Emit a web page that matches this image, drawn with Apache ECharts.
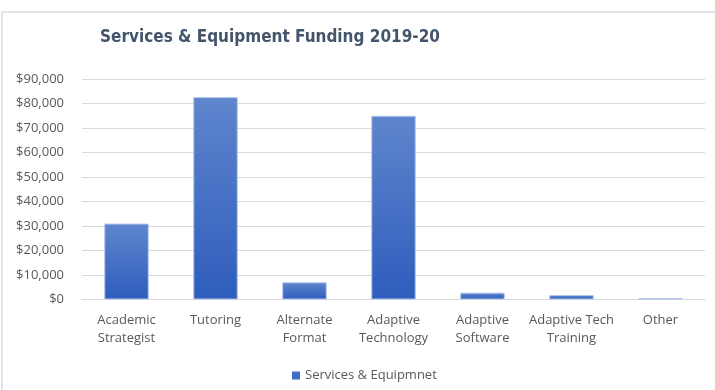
<!DOCTYPE html>
<html>
<head>
<meta charset="utf-8">
<script src="https://cdn.jsdelivr.net/npm/echarts@6/dist/echarts.min.js"></script>
<style>
  html, body { margin: 0; padding: 0; background: #ffffff; }
  #chart { width: 715px; height: 390px; }
</style>
</head>
<body>
<div id="chart"></div>
<script>
// Funding categories and amounts (USD)
var categories = [
  'Academic\nStrategist',
  'Tutoring',
  'Alternate\nFormat',
  'Adaptive\nTechnology',
  'Adaptive\nSoftware',
  'Adaptive Tech\nTraining',
  'Other'
];
var fundingValues = [31000, 82600, 7000, 75000, 2800, 1800, 500];
var seriesName = 'Services & Equipmnet';
var chartTitle = 'Services & Equipment Funding 2019-20';

var labelColor = '#595959';
var gridColor = '#d9d9d9';

var chart = echarts.init(document.getElementById('chart'), null, { renderer: 'canvas' });

chart.setOption({
  animation: false,
  backgroundColor: '#ffffff',
  title: {
    text: chartTitle,
    left: 265,
    top: 24,
    textAlign: 'center',
    textStyle: {
      fontFamily: '"DejaVu Sans Condensed", "Open Sans", sans-serif',
      fontWeight: 'bold',
      fontSize: 17,
      color: '#44546a'
    }
  },
  graphic: [{
    type: 'rect',
    shape: { x: 2, y: 12, width: 800, height: 500 },
    style: { fill: 'none', stroke: '#e3e5ea', lineWidth: 2 },
    silent: true,
    z: -1
  }],
  legend: {
    left: 287,
    top: 364,
    itemWidth: 8,
    itemHeight: 8,
    icon: 'rect',
    textStyle: {
      fontFamily: '"Open Sans", sans-serif',
      fontSize: 13,
      color: labelColor
    },
    data: [{ name: seriesName, itemStyle: { color: '#3f6cc6', borderWidth: 0 } }]
  },
  grid: {
    left: 82,
    right: 10,
    top: 79,
    bottom: 90.5,
    containLabel: false
  },
  xAxis: {
    type: 'category',
    data: categories,
    axisLine: { lineStyle: { color: gridColor, width: 1 } },
    axisTick: { show: false },
    axisLabel: {
      interval: 0,
      margin: 12,
      lineHeight: 18,
      fontFamily: '"Open Sans", sans-serif',
      fontSize: 13,
      color: labelColor
    }
  },
  yAxis: {
    type: 'value',
    min: 0,
    max: 90000,
    interval: 10000,
    axisLine: { show: false },
    axisTick: { show: false },
    splitLine: { lineStyle: { color: gridColor, width: 1 } },
    axisLabel: {
      margin: 18,
      fontFamily: '"Open Sans", sans-serif',
      fontSize: 13,
      color: labelColor,
      formatter: function (v) {
        return '$' + v.toLocaleString('en-US');
      }
    }
  },
  series: [{
    name: seriesName,
    type: 'bar',
    data: fundingValues,
    barCategoryGap: '50%',
    itemStyle: {
      color: new echarts.graphic.LinearGradient(0, 0, 0, 1, [
        { offset: 0, color: '#5f85cd' },
        { offset: 1, color: '#2e5dbc' }
      ]),
      borderColor: '#b3c5ea',
      borderWidth: 1
    }
  }]
});
</script>
</body>
</html>
